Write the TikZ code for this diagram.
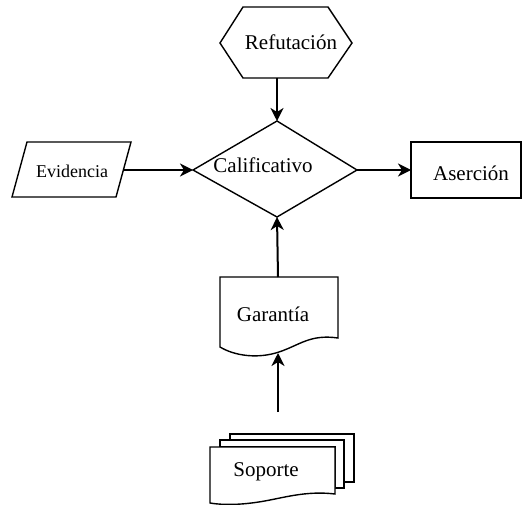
\documentclass[tikz,border=0pt]{standalone}
\usepackage{fontspec}
\setmainfont{Liberation Serif}
\usetikzlibrary{arrows.meta}
\begin{document}
\begin{tikzpicture}[x=1pt,y=-1pt,
  shapeline/.style={draw=black,line width=1.4pt,line join=miter,fill=white},
  link/.style={draw=black,line width=2pt,-{Stealth[length=13pt,width=13pt,inset=4pt]}},
  lbl/.style={anchor=base,inner sep=0pt,font=\fontsize{21}{25}\selectfont},
  smalllbl/.style={anchor=base,inner sep=0pt,font=\fontsize{18}{22}\selectfont}]
\useasboundingbox (0,0) rectangle (524,505);

% Refutación (hexagon)
\draw[shapeline] (220,43) -- (243,7) -- (328,7) -- (352,43) -- (328,78) -- (243,78) -- cycle;
\node[lbl] (refut) at (291,50) {Refutación};
\coordinate (refutS) at (277,78);

% Calificativo (diamond)
\draw[shapeline] (277,121) -- (357,170) -- (277,217) -- (193,170) -- cycle;
\node[lbl] (calif) at (263,172) {Calificativo};
\coordinate (califN) at (277,121);
\coordinate (califW) at (193,170);
\coordinate (califE) at (357,170);
\coordinate (califS) at (277,217);

% Evidencia (parallelogram)
\draw[shapeline] (27,142) -- (131,142) -- (116,197) -- (12,197) -- cycle;
\node[smalllbl] (evid) at (72,178) {Evidencia};
\coordinate (evidE) at (123,170);

% Aserción (rectangle)
\draw[shapeline] (411,142) rectangle (521,198);
\node[lbl] (aser) at (471,180) {Aserción};
\coordinate (aserW) at (411,170);

% Garantía (document)
\draw[shapeline] (220,277) -- (338,277) -- (338,338)
  .. controls (310,334) and (300,345) .. (279,352)
  .. controls (258,359) and (235,356) .. (220,347) -- cycle;
\node[lbl] (garan) at (273,321) {Garantía};
\coordinate (garanN) at (278,277);
\coordinate (garanS) at (278,353);

% Soporte (stack of documents)
\draw[shapeline] (230,434) -- (354,434) -- (354,482) -- (344,482) -- (344,440) -- (230,440) -- cycle;
\draw[shapeline] (220,440) -- (344,440) -- (344,488) -- (335,488) -- (335,447) -- (220,447) -- cycle;
\draw[shapeline] (210,447) -- (335,447) -- (335,494)
  .. controls (310,491) and (290,496) .. (270,500)
  .. controls (250,504) and (228,506) .. (210,503) -- cycle;
\node[lbl] (sop) at (266,476) {Soporte};
\coordinate (sopN) at (278,412);

% connectors
\draw[link] (refutS) -- (califN);
\draw[link] (evidE) -- (califW);
\draw[link] (califE) -- (aserW);
\draw[link] (garanN) -- (califS);
\draw[link] (sopN) -- (garanS);
\end{tikzpicture}
\end{document}
